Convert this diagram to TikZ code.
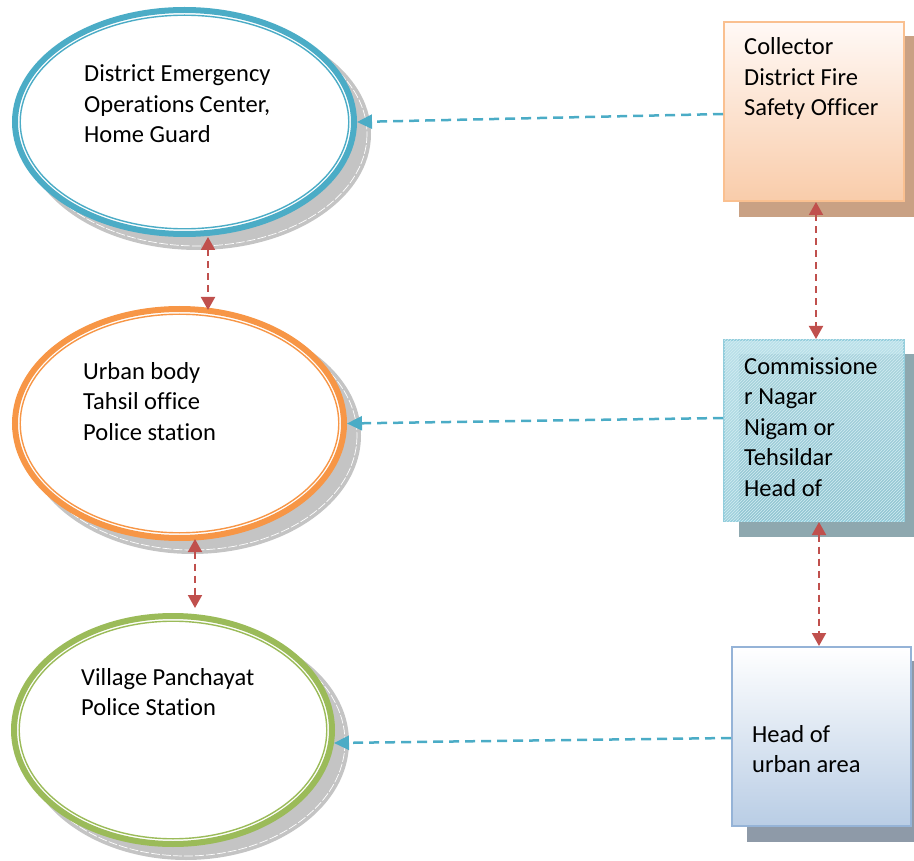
\documentclass[tikz,border=0pt]{standalone}
\usepackage{fontspec}
\setmainfont{Carlito}[RawFeature={-liga}]
\usetikzlibrary{shapes.geometric,arrows.meta,calc,backgrounds,patterns}
\definecolor{cblue}{HTML}{4BACC6}
\definecolor{corange}{HTML}{F79646}
\definecolor{cgreen}{HTML}{9BBB59}
\definecolor{cred}{HTML}{C0504D}
\definecolor{cshadow}{HTML}{C4C4C4}
\definecolor{boneborder}{HTML}{FAC090}
\definecolor{bonetop}{HTML}{FFF9F6}
\definecolor{bonebot}{HTML}{F9CCAA}
\definecolor{boneshadow}{HTML}{C9A184}
\definecolor{btwoborder}{HTML}{92CDDC}
\definecolor{btwotop}{HTML}{B2DCE6}
\definecolor{btwobot}{HTML}{93CAD7}
\definecolor{btwoshadow}{HTML}{8EA8AF}
\definecolor{btwohatch}{HTML}{D2ECF2}
\definecolor{bthreeborder}{HTML}{95B3D7}
\definecolor{bthreetop}{HTML}{FFFFFF}
\definecolor{bthreebot}{HTML}{B9CDE5}
\definecolor{bthreeshadow}{HTML}{8E9AA8}
\begin{document}
\begin{tikzpicture}[x=1pt,y=-1pt,
  ring/.style={ellipse, draw=#1, line width=6pt, fill=white, inner sep=0pt, outer sep=3pt},
  lbl/.style={align=left, anchor=base west, inner sep=0pt, font=\fontsize{24.5}{30.5}\selectfont},
  bluearrow/.style={draw=cblue, line width=2.5pt, dash pattern=on 10pt off 6pt, -{Triangle[width=14pt,length=15pt]}},
  redarrow/.style={draw=cred, line width=2pt, dash pattern=on 7pt off 5pt, {Triangle[width=14pt,length=13pt]}-{Triangle[width=14pt,length=13pt]}},
  boxnode/.style={rectangle, line width=2pt, inner sep=0pt, outer sep=1pt},
]
\useasboundingbox (0,0) rectangle (914,861);
\clip (0,0) rectangle (914,861);

% ellipses
\node[ring=cblue, minimum width=339pt, minimum height=224pt] (e1) at (184.5,122) {};
\draw[cblue, line width=1.4pt] (e1.center) ellipse [x radius=164.3, y radius=106.8];
\node[ring=corange, minimum width=329pt, minimum height=229pt] (e2) at (179.5,423.5) {};
\draw[corange, line width=1.4pt] (e2.center) ellipse [x radius=159.3, y radius=109.3];
\node[ring=cgreen, minimum width=318pt, minimum height=228pt] (e3) at (173,730) {};
\draw[cgreen, line width=1.4pt] (e3.center) ellipse [x radius=153.8, y radius=108.8];

\node[lbl] (t1) at (84,143) {District Emergency\\Operations Center,\\Home Guard};
\node[lbl] (t2) at (83,440) {Urban body\\Tahsil office\\Police station};
\node[lbl] (t3) at (81,715.5) {Village Panchayat\\Police Station};

% boxes
\node[boxnode, draw=boneborder, top color=bonetop, bottom color=bonebot,
      minimum width=180pt, minimum height=179pt] (b1) at (814,111.5) {};
\node[boxnode, draw=btwoborder, top color=btwotop, bottom color=btwobot, fill opacity=0.88,
      postaction={pattern=north east lines, pattern color=btwohatch},
      minimum width=180pt, minimum height=181pt] (b2) at (814,430.5) {};
\node[boxnode, draw=bthreeborder, top color=bthreetop, bottom color=bthreebot,
      minimum width=179pt, minimum height=179pt] (b3) at (821.5,736.5) {};

\node[lbl] (s1) at (744,116) {Collector\\District Fire\\Safety Officer};
\node[lbl] (s2) at (744,496) {Commissione\\r Nagar\\Nigam or\\Tehsildar\\Head of};
\node[lbl] (s3) at (752,772.5) {Head of\\urban area};

% shadows
\begin{scope}[on background layer]
  \fill[cshadow] ($(e1.center)+(13,12)$) ellipse [x radius=173.5, y radius=116];
  \draw[white, line width=0.7pt, dash pattern=on 9pt off 2pt] ($(e1.center)+(13,12)$) ellipse [x radius=169.5, y radius=112];
  \fill[cshadow] ($(e2.center)+(13,12)$) ellipse [x radius=168.5, y radius=118.5];
  \draw[white, line width=0.7pt, dash pattern=on 9pt off 2pt] ($(e2.center)+(13,12)$) ellipse [x radius=164.5, y radius=114.5];
  \fill[cshadow] ($(e3.center)+(13,12)$) ellipse [x radius=163, y radius=118];
  \draw[white, line width=0.7pt, dash pattern=on 9pt off 2pt] ($(e3.center)+(13,12)$) ellipse [x radius=159, y radius=114];
  \fill[boneshadow] ($(b1.south west)+(16,15)$) rectangle ($(b1.north east)+(16,15)$);
  \fill[btwoshadow] ($(b2.south west)+(16,15)$) rectangle ($(b2.north east)+(16,15)$);
  \fill[bthreeshadow] ($(b3.south west)+(16,15)$) rectangle ($(b3.north east)+(16,15)$);
\end{scope}

% connectors
\draw[bluearrow] ($(b1.west)+(0,2.5)$) -- (e1.east);
\draw[bluearrow] ($(b2.west)+(0,-12.5)$) -- (e2.east);
\draw[bluearrow] ($(b3.west)+(0,1.5)$) -- ($(e3.east)+(-1,13)$);

\draw[redarrow] ($(e1.south)+(23.5,0)$) -- ($(e2.north)+(28.5,4)$);
\draw[redarrow] ($(e2.south)+(15.5,-2)$) -- ($(e3.north)+(22,-5)$);
\draw[redarrow] ($(b1.south)+(2,0)$) -- ($(b2.north)+(2,0)$);
\draw[redarrow] ($(b2.south)+(5,0)$) -- ($(b3.north)+(-2.5,0)$);
\end{tikzpicture}
\end{document}
